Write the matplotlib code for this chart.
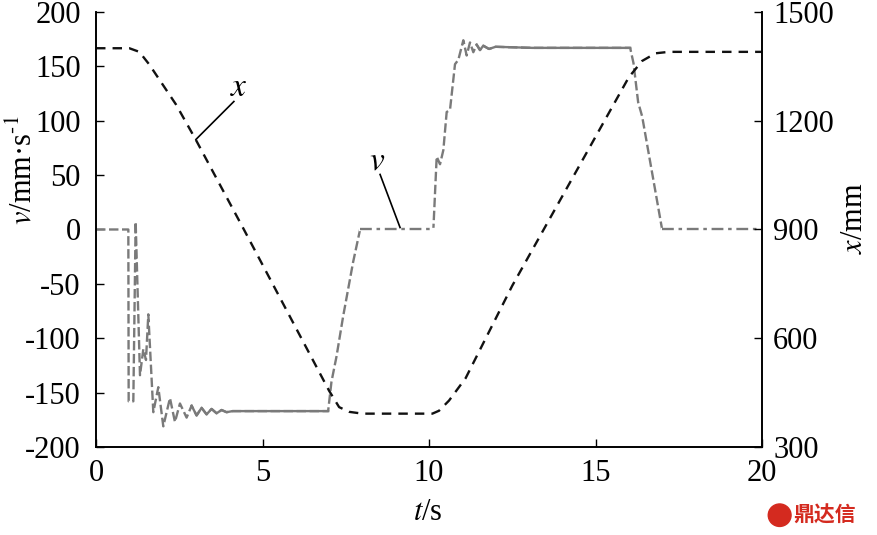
import numpy as np
import matplotlib.pyplot as plt
from matplotlib.patches import Ellipse

plt.rcParams['font.family'] = ['Liberation Serif', 'DejaVu Serif']
plt.rcParams['mathtext.fontset'] = 'stix'
plt.rcParams['axes.unicode_minus'] = False

# displacement x (mm) vs time
t_x = [0, 1.0, 1.3, 1.6, 2.0, 2.4, 3.0, 4.44, 7.0, 7.3, 7.6, 8.0, 10.1, 10.3,
       10.6, 11.1, 12.5, 16.0, 16.4, 16.8, 17.2, 20]
x_mm = [1400, 1400, 1390, 1355, 1300, 1245, 1147, 900, 455, 410, 397, 392, 392, 400,
        428, 490, 745, 1320, 1365, 1386, 1390, 1390]

# velocity v (mm/s) vs time
t_v = [0, 0.97, 0.98, 1.12, 1.19, 1.32, 1.42, 1.50, 1.57, 1.72, 1.87, 2.02, 2.22,
       2.37, 2.52, 2.72, 2.87, 3.02, 3.17, 3.32, 3.47, 3.62, 3.77, 3.92, 4.1,
       6.97, 7.07, 7.22, 7.42, 7.72, 7.93, 10.13, 10.23, 10.33, 10.43, 10.53, 10.63,
       10.78, 10.88, 11.03, 11.13, 11.23, 11.33, 11.43, 11.53, 11.63, 11.8, 12.0,
       13.1, 16.04, 16.14, 16.28, 16.4, 17.0, 20]
v_mms = [0, 0, -158, -158, 7, -134, -110, -120, -78, -168, -145, -181, -155,
         -177, -160, -173, -162, -171, -164, -170, -165, -169, -166, -168, -167,
         -167, -140, -117, -80, -30, 0, 0, 67, 60, 73, 108, 110,
         152, 156, 174, 160, 172, 163, 170, 165, 169, 166, 168,
         167, 167, 153, 117, 104, 0, 0]

t_v = np.array(t_v)
v_mms = np.array(v_mms, dtype=float)
steady = ((t_v >= 2.85) & (t_v <= 6.97)) | ((t_v >= 11.4) & (t_v <= 16.04))
zero = (t_v >= 7.93) & (t_v <= 10.13) | (t_v >= 17.0)

fig = plt.figure(figsize=(8.77, 5.35), dpi=100)
ax = fig.add_axes([0.1095, 0.1645, 0.7594, 0.8131])
ax2 = ax.twinx()

gray = '#7a7a7a'
ax.plot(t_v, v_mms, color=gray, lw=1.7, dashes=(4, 1.5))
ax.plot(t_v, np.where(steady, v_mms, np.nan), color=gray, lw=1.7)
ax.plot(t_v, np.where(zero, v_mms, np.nan), color='white', lw=2.4)
ax.plot(t_v, np.where(zero, v_mms, np.nan), color=gray, lw=1.7, dashes=(5, 2, 1.5, 2))

ax2.plot(t_x, x_mm, color='#111111', lw=1.7, dashes=(4, 3))

ax.set_xlim(0, 20)
ax.set_ylim(-200, 200)
ax2.set_ylim(300, 1500)
ax.set_xticks([0, 5, 10, 15, 20])
ax.set_yticks(np.arange(-200, 201, 50))
ax2.set_yticks([300, 600, 900, 1200, 1500])

for a in (ax, ax2):
    a.spines['top'].set_visible(False)
    a.tick_params(direction='in', length=6, width=1, labelsize=22)
    for s in a.spines.values():
        s.set_linewidth(1.2)
ax.tick_params(axis='y', pad=11)
ax.tick_params(axis='x', pad=9)
ax2.tick_params(axis='y', pad=8)

ax.set_xlabel('$t$/s', fontsize=22)
ax.set_ylabel('$v$/mm·s$^{\\text{-1}}$', fontsize=22)
ax2.set_ylabel('$x$/mm', fontsize=22)
ax.xaxis.set_label_coords(0.4985, -0.118)
ax.yaxis.set_label_coords(-0.086, 0.637)
ax2.yaxis.set_label_coords(1.117, 0.526)

ax.text(4.29, 130, '$x$', fontsize=24, ha='center', va='center')
ax.plot([4.14, 3.0], [117.7, 82.8], color='black', lw=1.2)
ax.text(8.44, 62.5, '$v$', fontsize=24, ha='center', va='center')
ax.plot([8.53, 9.13], [50.6, 1.8], color='black', lw=1.2)

# watermark
fig.add_artist(Ellipse((0.889, 0.037), 0.026, 0.042, color='#d42a1f', transform=fig.transFigure))
fig.text(0.905, 0.037, '鼎达信', color='#d42a1f', fontsize=15, fontweight='bold',
         family=['Noto Sans CJK SC', 'DejaVu Sans'], va='center', ha='left')

fig.savefig('out.png', dpi=100)
